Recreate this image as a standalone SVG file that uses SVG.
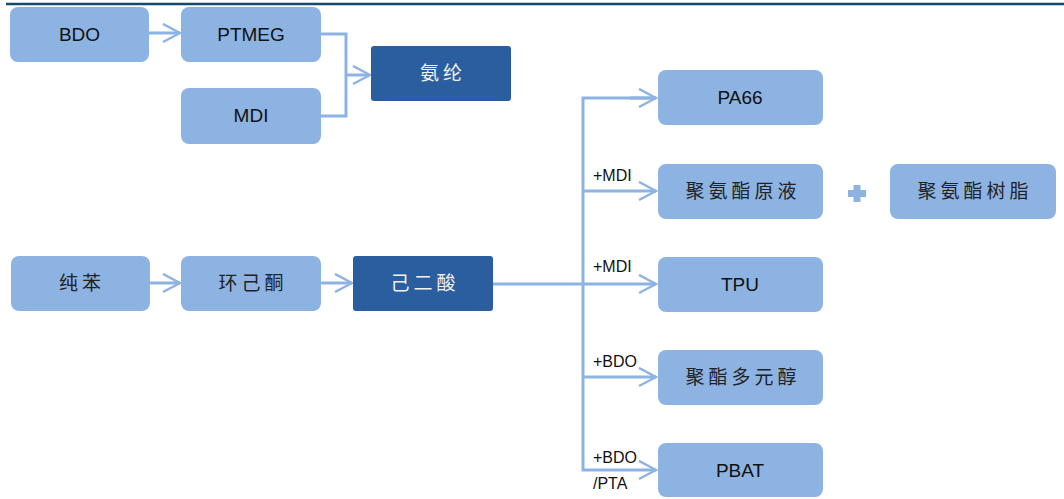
<svg xmlns="http://www.w3.org/2000/svg" width="1064" height="499" viewBox="0 0 1064 499">
<defs>
<style>
.lb{fill:#8db3e2}
.dk{fill:#2b5e9e}
.t{font-family:"Liberation Sans","Noto Sans CJK SC",sans-serif;font-size:19px;text-anchor:middle;fill:#111}
.c{font-family:"Noto Sans CJK SC","Liberation Sans",sans-serif;font-size:19px;text-anchor:middle;fill:#222;letter-spacing:4px}
.w{fill:#f2f2f2}
.lab{font-family:"Liberation Sans",sans-serif;font-size:16px;fill:#111}
.ln{fill:none;stroke:#8db3e2;stroke-width:3}
</style>
<marker id="ah" markerWidth="20" markerHeight="22" refX="18" refY="10" orient="auto" markerUnits="userSpaceOnUse">
<path d="M1,1 L18,10 L1,19" fill="none" stroke="#8db3e2" stroke-width="2.5"/>
</marker>
</defs>
<rect width="1064" height="499" fill="#fff"/>
<line x1="6" y1="4" x2="1064" y2="4" stroke="#17496b" stroke-width="2.5"/>

<g id="connectors">
<line class="ln" x1="149" y1="33" x2="180" y2="33" marker-end="url(#ah)"/>
<polyline class="ln" points="321,34 346,34 346,116 321,116"/>
<line class="ln" x1="346" y1="75" x2="370" y2="75" marker-end="url(#ah)"/>
<line class="ln" x1="150" y1="283" x2="180" y2="283" marker-end="url(#ah)"/>
<line class="ln" x1="321" y1="283" x2="352" y2="283" marker-end="url(#ah)"/>
<line class="ln" x1="493" y1="284" x2="583" y2="284"/>
<polyline class="ln" points="656,98 583,98 583,470 656,470" marker-end="url(#ah)"/>
<line class="ln" x1="630" y1="98" x2="656" y2="98" marker-end="url(#ah)"/>
<line class="ln" x1="583" y1="191" x2="656" y2="191" marker-end="url(#ah)"/>
<line class="ln" x1="583" y1="284" x2="656" y2="284" marker-end="url(#ah)"/>
<line class="ln" x1="583" y1="377" x2="656" y2="377" marker-end="url(#ah)"/>
<text class="lab" x="593" y="181">+MDI</text>
<text class="lab" x="593" y="272">+MDI</text>
<text class="lab" x="593" y="367">+BDO</text>
<text class="lab" x="593" y="463">+BDO</text>
<text class="lab" x="593" y="489">/PTA</text>
</g>

<g id="BDO"><rect class="lb" x="10" y="7" width="139" height="55" rx="8"/><text class="t" x="79.5" y="41">BDO</text></g>
<g id="PTMEG"><rect class="lb" x="181" y="7" width="140" height="55" rx="8"/><text class="t" x="251" y="41">PTMEG</text></g>
<g id="MDI"><rect class="lb" x="181" y="88" width="140" height="56" rx="8"/><text class="t" x="251" y="122">MDI</text></g>
<g id="spandex"><rect class="dk" x="371" y="46" width="140" height="55" rx="3"/><text class="c w" x="443" y="80">氨纶</text></g>

<g id="benzene"><rect class="lb" x="11" y="256" width="139" height="55" rx="8"/><text class="c" x="82" y="290">纯苯</text></g>
<g id="cyclohexanone"><rect class="lb" x="181" y="256" width="140" height="55" rx="8"/><text class="c" x="253" y="290">环己酮</text></g>
<g id="adipic"><rect class="dk" x="353" y="256" width="140" height="55" rx="3"/><text class="c w" x="425" y="290">己二酸</text></g>

<g id="PA66"><rect class="lb" x="658" y="70" width="165" height="55" rx="8"/><text class="t" x="740" y="104">PA66</text></g>
<g id="pu-solution"><rect class="lb" x="658" y="164" width="165" height="55" rx="8"/><text class="c" x="743" y="198">聚氨酯原液</text></g>
<g id="plus"><rect class="lb" x="848" y="190" width="18" height="7"/><rect class="lb" x="853.5" y="185" width="7" height="17"/></g>
<g id="pu-resin"><rect class="lb" x="890" y="164" width="166" height="55" rx="8"/><text class="c" x="975" y="198">聚氨酯树脂</text></g>
<g id="TPU"><rect class="lb" x="658" y="257" width="165" height="55" rx="8"/><text class="t" x="740" y="291">TPU</text></g>
<g id="polyester-polyol"><rect class="lb" x="658" y="350" width="165" height="55" rx="8"/><text class="c" x="743" y="384">聚酯多元醇</text></g>
<g id="PBAT"><rect class="lb" x="658" y="443" width="165" height="54" rx="8"/><text class="t" x="740" y="477">PBAT</text></g>
</svg>
